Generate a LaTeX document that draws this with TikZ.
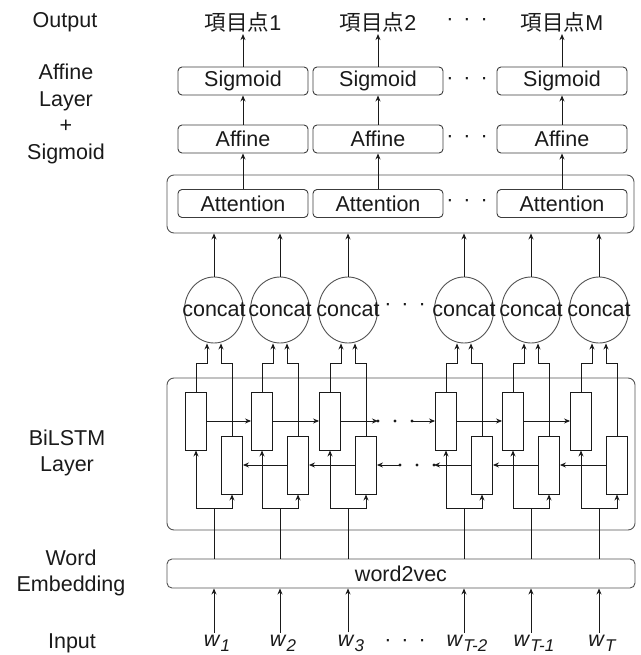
\documentclass[tikz,border=0pt]{standalone}
\usepackage{fontspec}
\setmainfont{Liberation Sans}
\newfontfamily\cjk{Noto Sans CJK JP}
\usetikzlibrary{arrows.meta,shapes.geometric}
\definecolor{ink}{HTML}{1A1A1A}
\newcommand{\threedots}{·\hspace{10pt}·\hspace{10pt}·}
\newcommand{\wsub}[1]{\textit{w}\raisebox{-0.45ex}{\fontsize{17}{17}\selectfont\itshape #1}}
\tikzset{
  cell/.style={rounded corners=4pt,draw=ink!85,line width=0.9pt,minimum width=130pt,
    minimum height=28pt,inner sep=0pt},
  layer/.style={rounded corners=7pt,draw=ink!75,line width=0.9pt,inner sep=0pt},
  lstm/.style={draw=ink,line width=0.9pt,minimum width=21pt,minimum height=58pt,inner sep=0pt},
  cat/.style={ellipse,draw=ink!75,line width=0.9pt,minimum width=59pt,minimum height=66pt,
    inner sep=0pt},
  arr/.style={-{Stealth[length=6pt,width=5pt]},line width=0.8pt,draw=ink},
  wire/.style={line width=0.8pt,draw=ink},
  lbl/.style={align=center,inner sep=0pt},
  gapdot/.style={circle,fill=ink,inner sep=0pt,minimum size=3.4pt},
}

\begin{document}
\begin{tikzpicture}[x=1pt,y=-1pt,font=\fontsize{21.5}{26.5}\selectfont,text=ink]
  \useasboundingbox (0,0) rectangle (640,655);

  % layer names on the left
  \node[lbl] (lout) at (65,22) {Output};
  \node[lbl] (laff) at (66,114) {Affine\\Layer\\+\\Sigmoid};
  \node[lbl] (llstm) at (67,453) {BiLSTM\\Layer};
  \node[lbl] (lemb) at (71,573) {Word\\Embedding};
  \node[lbl] (lin) at (72,643) {Input};

  % attention / affine / sigmoid columns
  \node[layer,minimum width=467pt,minimum height=58pt] (attbox) at (400.5,204) {};
  \foreach \k/\x/\t in {1/243/1,2/378/2,3/562/M} {
    \node[cell] (att\k) at (\x,203.5) {Attention};
    \node[cell] (aff\k) at (\x,139) {Affine};
    \node[cell] (sig\k) at (\x,81) {Sigmoid};
    \node[inner sep=2pt] (out\k) at (\x,22) {{\cjk 項目点}\t};
    \draw[arr] (att\k.north) -- (aff\k.south);
    \draw[arr] (aff\k.north) -- (sig\k.south);
    \draw[arr] (sig\k.north) -- (out\k.south);
  }
  \node (dout) at (467,22) {\threedots};
  \node (dsig) at (467,81) {\threedots};
  \node (daff) at (467,139) {\threedots};
  \node (datt) at (467,203.5) {\threedots};

  % BiLSTM block and embedding
  \node[layer,minimum width=468pt,minimum height=152pt] (lstmbox) at (401,454) {};
  \node[layer,rounded corners=5pt,minimum width=468pt,minimum height=29pt] (emb) at (401,573.5) {word2vec};

  \foreach \i/\c/\w in {1/214/1,2/280/2,3/348/3,4/464/T-2,5/531/T-1,6/599/T} {
    \node[lstm] (f\i) at (\c-18,421) {};
    \node[lstm] (b\i) at (\c+18,465) {};
    \node[cat] (cat\i) at (\c,310) {\makebox[0pt]{concat}};
    \node[inner sep=2pt] (w\i) at (\c+3,643) {\wsub{\w}};
    \coordinate (s\i) at (\c,508);
    \coordinate (t\i) at (\c,363);
    \draw[arr] (w\i.north -| s\i) -- (emb.south -| s\i);
    \draw[wire] (emb.north -| s\i) -- (s\i);
    \draw[arr] (s\i) -| (f\i.south);
    \draw[arr] (s\i) -| (b\i.south);
    \draw[arr] (f\i.north) -- (f\i.north |- t\i) -| ([xshift=-7pt]cat\i.south);
    \draw[arr] (b\i.north) -- (b\i.north |- t\i) -| ([xshift=7pt]cat\i.south);
    \draw[arr] (cat\i.north) -- (cat\i.north |- attbox.south);
  }
  \node (dcat) at (405,307) {\threedots};
  \node (din) at (405,643) {\threedots};

  % recurrent links
  \foreach \a/\b in {1/2,2/3,4/5,5/6} {
    \draw[arr] (f\a.east) -- (f\b.west);
    \draw[arr] (b\b.west) -- (b\a.east);
  }
  \node[gapdot] (fd1) at (378,421) {};
  \node[gapdot] (fd2) at (395,421) {};
  \node[gapdot] (fd3) at (412,421) {};
  \node[gapdot] (bd1) at (400,465) {};
  \node[gapdot] (bd2) at (417,465) {};
  \node[gapdot] (bd3) at (434,465) {};
  \draw[arr] (f3.east) -- (fd1.center);
  \draw[arr] (fd3.center) -- (f4.west);
  \draw[arr] (b4.west) -- (bd3.center);
  \draw[arr] (bd1.center) -- (b3.east);
\end{tikzpicture}
\end{document}
